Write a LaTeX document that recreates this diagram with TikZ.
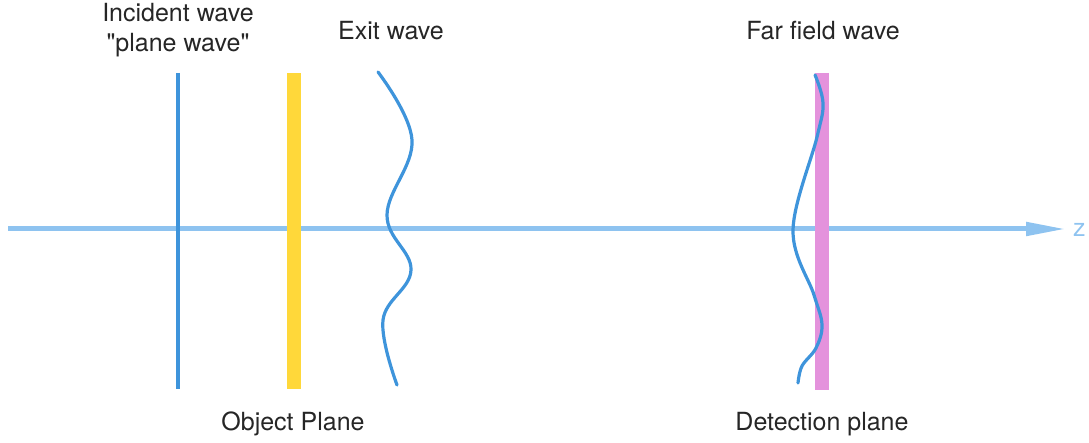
\documentclass[tikz,border=0pt]{standalone}
\usepackage{fontspec}
\setmainfont{TeX Gyre Heros}
\usetikzlibrary{arrows.meta}
\definecolor{axisblue}{HTML}{8EC3F0}
\definecolor{waveblue}{HTML}{3E94DB}
\definecolor{objyellow}{HTML}{FFD83A}
\definecolor{detpink}{HTML}{E492DC}
\begin{document}
\begin{tikzpicture}[x=1pt,y=-1pt,
   axis/.style={axisblue, line width=5pt, -{Triangle[length=40pt,width=13pt]}},
   wave/.style={waveblue, line width=3.2pt, line cap=round},
   caption/.style={font=\fontsize{25}{30}\selectfont, text=black!85, inner sep=0pt, align=center}]
\useasboundingbox (0,0) rectangle (1089,443);

% optical axis
\coordinate (zstart) at (8,229);
\coordinate (zend) at (1066,229);
\draw[axis] (zstart) -- (zend);
\node[caption, text=axisblue, anchor=west] (zlabel) at (1073,230) {z};

% incident plane wave
\draw[waveblue, line width=3.5pt] (178,73) -- (178,389);

% object plane
\fill[objyellow] (287,73) rectangle (301,389);

% exit wave
\draw[wave] plot[smooth, tension=0.65] coordinates
   {(378,72) (412,140) (387,215) (411,270) (383,320) (397,385)};

% detection plane and far field wave
\fill[detpink] (815,73) rectangle (829,390);
\draw[wave] plot[smooth, tension=0.6] coordinates
   {(815,75) (823,103) (817,137) (793,230) (814,295) (822,325) (816,348) (802,366) (798,383)};

% labels
\node[caption] (incident) at (178,30) {Incident wave\\\textquotedbl plane wave\textquotedbl};
\node[caption] (exit) at (391,31) {Exit wave};
\node[caption] (farfield) at (823,31) {Far field wave};
\node[caption] (object) at (293,424) {Object Plane};
\node[caption] (detection) at (822,424) {Detection plane};

\end{tikzpicture}
\end{document}
